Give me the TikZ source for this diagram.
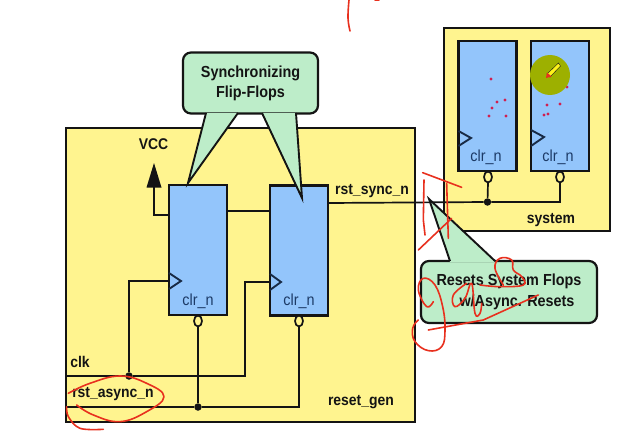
\documentclass[tikz,border=0pt]{standalone}
\usepackage{fontspec}
\usetikzlibrary{shapes.geometric}
\setmainfont[FakeStretch=0.9]{Liberation Sans}
\definecolor{boxy}{HTML}{FFF48F}
\definecolor{ffb}{HTML}{93C5FB}
\definecolor{callg}{HTML}{BDEDC9}
\definecolor{ink}{HTML}{141414}
\definecolor{navy}{HTML}{1C3A66}
\definecolor{scrib}{HTML}{E8301E}
\definecolor{spot}{HTML}{9DB000}
\definecolor{dotr}{HTML}{D02050}
\tikzset{
  x=1pt,y=-1pt,
  block/.style={draw=ink,line width=2.2pt,fill=boxy,minimum width=#1,inner sep=0pt,outer sep=0pt},
  ff/.style={draw=ink,line width=2.2pt,fill=ffb,minimum width=58pt,minimum height=130pt,inner sep=0pt,outer sep=0pt},
  wire/.style={draw=ink,line width=1.7pt},
  bub/.style={ellipse,draw=ink,line width=1.7pt,fill=boxy,minimum width=8pt,minimum height=11pt,inner sep=0pt,outer sep=0pt},
  jdot/.style={circle,fill=ink,minimum size=7.5pt,inner sep=0pt},
  lab/.style={font=\bfseries\fontsize{15.5}{17}\selectfont,text=ink,inner sep=0pt},
  clr/.style={font=\fontsize{16}{18}\selectfont,text=navy,inner sep=0pt},
  callout/.style={draw=ink,line width=2.2pt,fill=callg,rounded corners=8pt,inner sep=0pt,outer sep=0pt,align=center,font=\bfseries\fontsize{16}{20}\selectfont,text=ink},
  clktri/.style={draw=navy!60!ink,line width=1.9pt,line join=miter},
  scr/.style={draw=scrib,line width=1.6pt,line cap=round,line join=round},
  rdot/.style={fill=dotr}
}
\begin{document}
\begin{tikzpicture}
\useasboundingbox (0,0) rectangle (629,436);
\fill[white] (0,0) rectangle (629,436);
% blocks
\node[block=349pt,minimum height=294pt] (resetgen) at (240.5,275) {};
\node[block=166pt,minimum height=203pt] (system) at (527,129.5) {};
% flip-flops
\node[ff] (ffa) at (198,250) {};
\node[ff] (ffb) at (299,250.5) {};
\node[ff] (ffc) at (487.5,106) {};
\node[ff] (ffd) at (560,106) {};
\draw[clktri] (ffa.west |- 0,273) -- (181,281) -- (ffa.west |- 0,289);
\draw[clktri] (ffb.west |- 0,274) -- (281,282) -- (ffb.west |- 0,290);
\draw[clktri] (ffc.west |- 0,131) -- (471,138) -- (ffc.west |- 0,146);
\draw[clktri] (ffd.west |- 0,130) -- (544,137) -- (ffd.west |- 0,146);
\node[clr] (ca) at (198,301) {clr\_n};
\node[clr] (cb) at (299,301) {clr\_n};
\node[clr] (cc) at (486,157) {clr\_n};
\node[clr] (cd) at (558,157) {clr\_n};
% bubbles
\node[bub] (ba) at (198,321) {};
\node[bub] (bb) at (299,321) {};
\node[bub] (bc) at (488,177) {};
\node[bub] (bd) at (560,177) {};
% wiring
\coordinate (clkin) at (resetgen.west |- 0,376);
\coordinate (rstin) at (resetgen.west |- 0,407);
\node[jdot] (jclk) at (129,376) {};
\node[jdot] (jrst) at (198,407) {};
\node[jdot] (jsys) at (487.5,202) {};
\coordinate (vccfoot) at (154,215);
\coordinate (vcctip) at (154,187);
\draw[wire] (clkin) -- (jclk) -- (245,376) -- (245,282) -- (ffb.west |- 0,282);
\draw[wire] (jclk) -- (129,281) -- (ffa.west |- 0,281);
\draw[wire] (rstin) -- (jrst) -- (299,407) -- (bb.south);
\draw[wire] (jrst) -- (ba.south);
\draw[wire] (ffa.east |- 0,211) -- (ffb.west |- 0,211);
\draw[wire] (ffa.west |- 0,215) -- (vccfoot) -- (vcctip);
\fill[ink] (154,163) -- (161.5,187.5) -- (146.5,187.5) -- cycle;
\draw[wire] (ffb.east |- 0,203) -- (jsys) -- (560,202) -- (bd.south);
\draw[wire] (jsys) -- (bc.south);
% labels
\node[lab] (vcc) at (153.5,144) {VCC};
\node[lab] (rsync) at (372,191) {rst\_sync\_n};
\node[lab] (clk) at (80,362) {clk};
\node[lab] (rasync) at (113,394) {rst\_async\_n};
\node[lab] (rgen) at (361,402) {reset\_gen};
\node[lab] (sys) at (551,220) {system};
% dots in flops
\foreach \x/\y in {491/79,497/102,505/100,492/108,489/116,506/116,567/87,547/105,560/104,544/115,548/114}
  \fill[rdot] (\x,\y) circle (1.6pt);
% spotlight and pointer
\fill[spot] (550,75) circle (20pt);
\fill[yellow!90!white,draw=ink,line width=.4pt] (558.5,63) -- (560.5,66) -- (550,77) -- (547,74) -- cycle;
\fill[scrib] (546,78) -- (547,72.5) -- (551.5,76.5) -- cycle;
% callout 1
\node[callout,minimum width=135pt,minimum height=61pt] (co) at (250.5,83) {Synchronizing\\Flip-Flops};
\coordinate (tipl) at (188,183);
\coordinate (tipr) at (302,198);
\fill[callg] (206,113) -- (tipl) -- (238,113) -- cycle;
\fill[callg] (262,113) -- (tipr) -- (296,113) -- cycle;
\draw[wire,line width=1.9pt] (206,113) -- (tipl) -- (238,113);
\draw[wire,line width=1.9pt] (262,113) -- (tipr) -- (296,113);
% callout 2
\node[callout,minimum width=176pt,minimum height=62pt] (cs) at (509,292) {Resets System Flops\\[.5pt]\hspace*{16pt}w/Async. Resets};
\coordinate (tips) at (429,199);
\fill[callg] (450,262) -- (tips) -- (495,262) -- cycle;
\draw[wire,line width=1.9pt] (450,261) -- (tips) -- (495,261);
% ink scribbles (zoom coordinates)
\begin{scope}[shift={(400,170)},x=.3333pt,y=-.3333pt]
\draw[scr] (72,30) -- (70,150) -- (75,195);
\draw[scr] (68,8) -- (185,52);
\draw[scr] (140,40) -- (145,205);
\draw[scr] (55,240) -- (155,145);
\draw[scr] plot[smooth,tension=.7] coordinates {(100,395) (80,410) (55,360) (70,325) (105,345) (128,410) (135,480) (125,530) (85,542) (45,515) (38,475) (55,450)};
\draw[scr] plot[smooth,tension=.7] coordinates {(200,340) (160,375) (165,410) (195,385) (215,340) (225,430) (240,430) (245,400)};
\draw[scr] plot[smooth,tension=.7] coordinates {(240,345) (300,350) (370,345) (365,320) (340,300) (335,270) (300,265) (285,295) (310,345)};
\draw[scr] (85,480) -- (250,450) -- (415,375);
\end{scope}
\begin{scope}[shift={(40,220)},x=.3333pt,y=-.3333pt]
\draw[scr] plot[smooth,tension=.7] coordinates {(85,520) (150,490) (240,468) (320,490) (372,530) (320,575) (240,605) (160,585) (110,555)};
\draw[scr] plot[smooth,tension=.6] coordinates {(80,560) (85,590) (120,625) (190,628)};
\end{scope}
\draw[scr] plot[smooth,tension=.7] coordinates {(349,0) (348,18) (350,31)};
\draw[scr] (375,0) -- (379,0);
\end{tikzpicture}
\end{document}
